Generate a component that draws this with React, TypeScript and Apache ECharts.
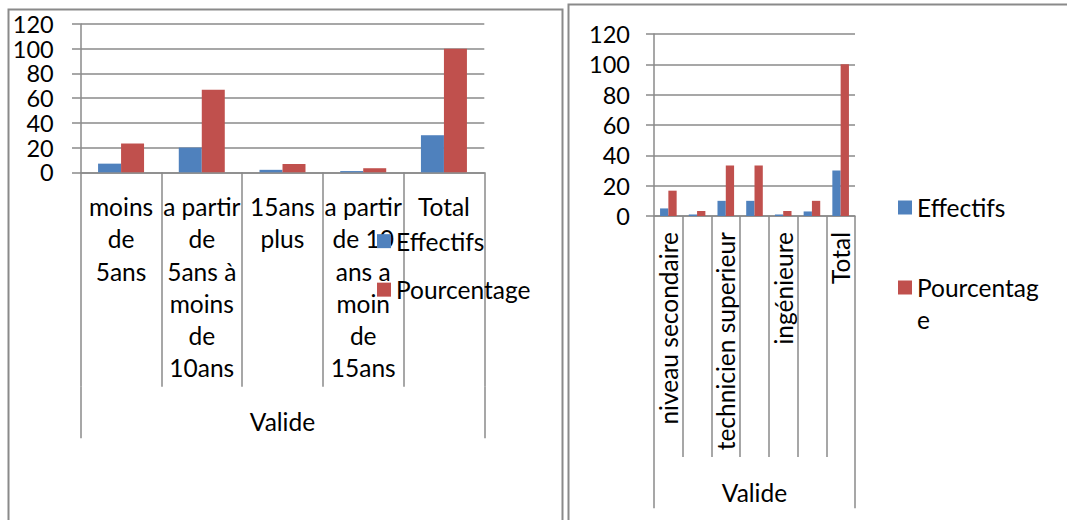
import React, { useEffect, useRef } from "react";
import * as echarts from "echarts";

const ageCategories = [
  "moins\nde\n5ans",
  "a partir\nde\n5ans à\nmoins\nde\n10ans",
  "15ans\nplus",
  "a partir\nde 10\nans a\nmoin\nde\n15ans",
  "Total",
];
const ageEffectifs = [7, 20, 2, 1, 30];
const agePourcentage = [23.3, 66.7, 6.7, 3.3, 100];

const eduCategories = [
  "niveau secondaire",
  "",
  "technicien superieur",
  "",
  "ingénieure",
  "",
  "Total",
];
const eduEffectifs = [5, 1, 10, 10, 1, 3, 30];
const eduPourcentage = [16.7, 3.3, 33.3, 33.3, 3.3, 10, 100];

const groupLabel = ["Valide"];
const seriesNames = ["Effectifs", "Pourcentage"];

const FONT = "Lato, 'Open Sans', sans-serif";
const GRAY = "#8a8a8a";
const BLUE = "#4F81BD";
const RED = "#C0504D";

export default function App() {
  const ref = useRef<HTMLDivElement>(null);

  useEffect(() => {
    if (!ref.current) return;
    const chart = echarts.init(ref.current, undefined, { renderer: "svg" });
    const txt = { color: "#000", fontFamily: FONT, fontSize: 24.5 };
    const ytxt = { color: "#000", fontFamily: FONT, fontSize: 23.5, lineHeight: 24 };
    const line = { color: GRAY, width: 1.5 };

    const option: any = {
      animation: false,
      backgroundColor: "#fff",
      graphic: [
        {
          type: "rect",
          shape: { x: 8.5, y: 9.5, width: 554, height: 540 },
          style: { fill: "none", stroke: GRAY, lineWidth: 2 },
          z: 0,
        },
        {
          type: "rect",
          shape: { x: 568.5, y: 4.5, width: 540, height: 540 },
          style: { fill: "none", stroke: GRAY, lineWidth: 2 },
          z: 0,
        },
      ],
      grid: [
        { left: 80.7, top: 24, width: 403.6, height: 148.3 },
        { left: 654, top: 34, width: 201, height: 182 },
      ],
      legend: [
        {
          orient: "vertical",
          left: 377,
          top: 225,
          padding: 0,
          itemWidth: 14,
          itemHeight: 14,
          itemGap: 16.2,
          icon: "rect",
          selectedMode: false,
          data: seriesNames,
          textStyle: { ...txt, lineHeight: 32.3 },
        },
        {
          orient: "vertical",
          left: 898,
          top: 191.5,
          padding: 0,
          itemWidth: 14,
          itemHeight: 14,
          itemGap: 16,
          icon: "rect",
          selectedMode: false,
          data: seriesNames,
          formatter: (name: string) =>
            name === "Pourcentage" ? " \nPourcentag\ne" : name,
          textStyle: { ...txt, lineHeight: 32 },
        },
      ],
      xAxis: [
        {
          gridIndex: 0,
          type: "category",
          data: ageCategories,
          axisLine: { show: true, lineStyle: line },
          axisTick: { show: true, length: 214.4, interval: 0, lineStyle: line },
          axisLabel: { ...txt, interval: 0, margin: 18, lineHeight: 32.3, align: "center" },
        },
        {
          gridIndex: 0,
          type: "category",
          position: "bottom",
          offset: 214.4,
          data: groupLabel,
          axisLine: { show: false },
          axisTick: { show: true, length: 51.6, lineStyle: line },
          axisLabel: { ...txt, margin: 19, lineHeight: 32 },
        },
        {
          gridIndex: 1,
          type: "category",
          data: eduCategories,
          axisLine: { show: true, lineStyle: line },
          axisTick: { show: true, length: 241, interval: 0, lineStyle: line },
          axisLabel: { ...txt, interval: 0, rotate: 90, margin: 16 },
        },
        {
          gridIndex: 1,
          type: "category",
          position: "bottom",
          offset: 241,
          data: groupLabel,
          axisLine: { show: false },
          axisTick: { show: true, length: 51.3, lineStyle: line },
          axisLabel: { ...txt, margin: 19, lineHeight: 32 },
        },
      ],
      yAxis: [
        {
          gridIndex: 0,
          type: "value",
          min: 0,
          max: 120,
          interval: 20,
          axisLine: { show: true, lineStyle: line },
          axisTick: { show: true, length: 8.7, lineStyle: line },
          splitLine: { show: true, lineStyle: line },
          axisLabel: { ...ytxt, margin: 27 },
        },
        {
          gridIndex: 1,
          type: "value",
          min: 0,
          max: 120,
          interval: 20,
          axisLine: { show: true, lineStyle: line },
          axisTick: { show: true, length: 8, lineStyle: line },
          splitLine: { show: true, lineStyle: line },
          axisLabel: { ...ytxt, margin: 24 },
        },
      ],
      series: [
        {
          name: seriesNames[0],
          type: "bar",
          xAxisIndex: 0,
          yAxisIndex: 0,
          data: ageEffectifs,
          barWidth: 23,
          barGap: "0%",
          itemStyle: { color: BLUE },
        },
        {
          name: seriesNames[1],
          type: "bar",
          xAxisIndex: 0,
          yAxisIndex: 0,
          data: agePourcentage,
          barWidth: 23,
          barGap: "0%",
          itemStyle: { color: RED },
        },
        {
          name: seriesNames[0],
          type: "bar",
          xAxisIndex: 2,
          yAxisIndex: 1,
          data: eduEffectifs,
          barWidth: 8.3,
          barGap: "0%",
          itemStyle: { color: BLUE },
        },
        {
          name: seriesNames[1],
          type: "bar",
          xAxisIndex: 2,
          yAxisIndex: 1,
          data: eduPourcentage,
          barWidth: 8.3,
          barGap: "0%",
          itemStyle: { color: RED },
        },
      ],
    };
    chart.setOption(option);
    return () => chart.dispose();
  }, []);

  return (
    <div
      ref={ref}
      style={{ position: "fixed", left: 0, top: 0, width: 1067, height: 520, background: "#fff" }}
    />
  );
}
